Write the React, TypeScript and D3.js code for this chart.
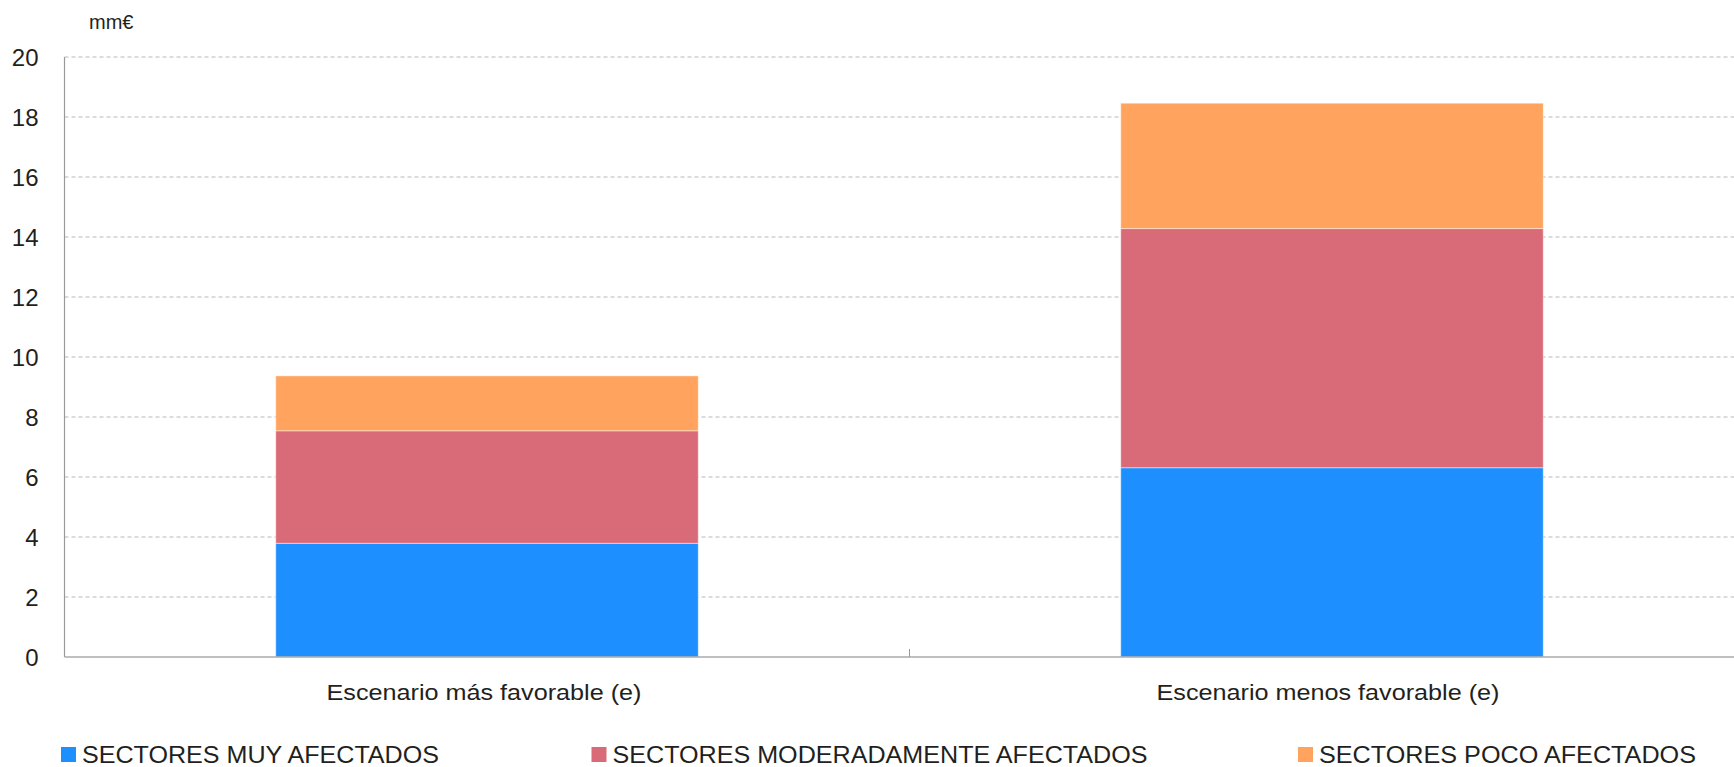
import React from "react";
import * as d3 from "d3";

const categories = ["Escenario más favorable (e)", "Escenario menos favorable (e)"];
const seriesNames = ["SECTORES MUY AFECTADOS", "SECTORES MODERADAMENTE AFECTADOS", "SECTORES POCO AFECTADOS"];
const muyAfectados = [3.79, 6.31];
const moderadamenteAfectados = [3.75, 7.97];
const pocoAfectados = [1.83, 4.18];
const yTicks = [0, 2, 4, 6, 8, 10, 12, 14, 16, 18, 20];
const colors = ["#1e8fff", "#d96a77", "#ffa35e"];

const W = 1734;
const H = 767;
const left = 64.5;
const plotRight = 1754.5;
const top = 57;
const bottom = 657;
const font = "'Liberation Sans', Arial, Helvetica, sans-serif";
const textColor = "#231f20";

export default function App() {
  const keys = ["muy", "mod", "poco"];
  const rows = categories.map((c, i) => ({
    cat: c,
    muy: muyAfectados[i],
    mod: moderadamenteAfectados[i],
    poco: pocoAfectados[i],
  }));
  const stack = d3.stack<any>().keys(keys)(rows);
  const x = d3.scaleBand<string>().domain(categories).range([left, plotRight]).paddingInner(0.5).paddingOuter(0.25);
  const y = d3.scaleLinear().domain([0, 20]).range([bottom, top]);

  const xLabelWidths = [315, 343];
  const xLabelShift = [-3, -4];
  const legendX = [61, 591.5, 1298];
  const legendTextW = [357, 535, 377];

  const midTick = (x(categories[0])! + x.bandwidth() + x(categories[1])!) / 2;

  return (
    <svg width={W} height={H} style={{ position: "absolute", left: 0, top: 0 }} fontFamily={font}>
      <rect x={0} y={0} width={W} height={H} fill="#fff" />
      {yTicks.slice(1).map((t) => (
        <line key={"g" + t} x1={left} x2={plotRight} y1={y(t)} y2={y(t)} stroke="#b9b9b9" strokeWidth={1} strokeDasharray="4,3" />
      ))}
      {yTicks.map((t) => (
        <text key={"t" + t} x={38.5} y={y(t)} textAnchor="end" dominantBaseline="central" fontSize={24} fill={textColor}>
          {t}
        </text>
      ))}
      <text x={89} y={29} fontSize={20} fill={textColor}>mm€</text>
      {stack.map((s, si) =>
        s.map((d, i) => (
          <rect
            key={si + "-" + i}
            x={x(categories[i])!}
            y={y(d[1])}
            width={x.bandwidth()}
            height={y(d[0]) - y(d[1])}
            fill={colors[si]}
            stroke="rgba(255,255,255,0.45)"
            strokeWidth={1}
          />
        ))
      )}
      <line x1={left} x2={left} y1={top} y2={bottom} stroke="#999" strokeWidth={1.2} />
      <line x1={left} x2={plotRight} y1={bottom} y2={bottom} stroke="#aaa" strokeWidth={1.6} />
      <line x1={midTick} x2={midTick} y1={bottom} y2={bottom - 8} stroke="#999" strokeWidth={1} />
      {categories.map((c, i) => (
        <text
          key={"xl" + i}
          x={x(c)! + x.bandwidth() / 2 + xLabelShift[i]}
          y={699.5}
          textAnchor="middle"
          fontSize={22}
          fill={textColor}
          textLength={xLabelWidths[i]}
          lengthAdjust="spacingAndGlyphs"
        >
          {c}
        </text>
      ))}
      {seriesNames.map((n, i) => (
        <g key={"lg" + i}>
          <rect x={legendX[i]} y={747} width={15} height={15} fill={colors[i]} />
          <text
            x={legendX[i] + 21}
            y={763}
            fontSize={24}
            fill={textColor}
            textLength={legendTextW[i]}
            lengthAdjust="spacingAndGlyphs"
          >
            {n}
          </text>
        </g>
      ))}
    </svg>
  );
}
